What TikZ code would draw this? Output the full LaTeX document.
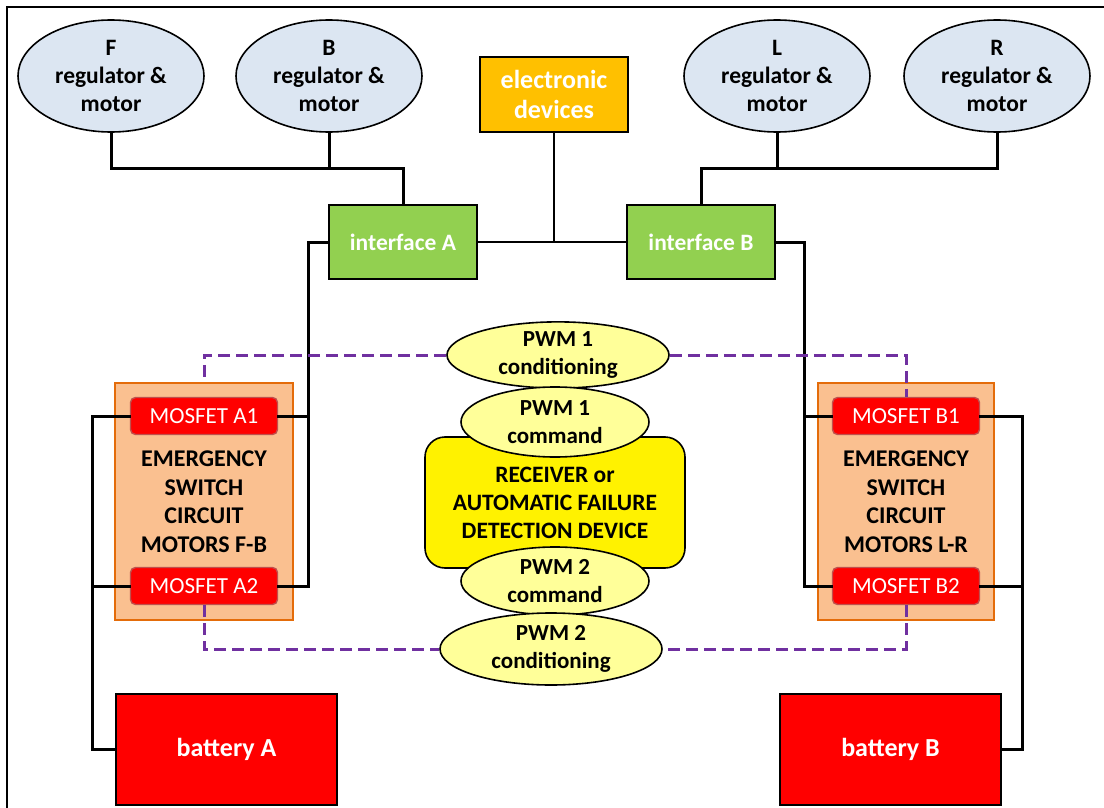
\documentclass[tikz,border=0pt]{standalone}
\usepackage{fontspec}
\setmainfont{Carlito}
\usetikzlibrary{shapes.geometric}
\definecolor{motorfill}{HTML}{DCE6F2}
\definecolor{elecfill}{HTML}{FFC000}
\definecolor{ifacefill}{HTML}{92D050}
\definecolor{escfill}{HTML}{FAC090}
\definecolor{escdraw}{HTML}{E46C0A}
\definecolor{mosdraw}{HTML}{C0504D}
\definecolor{pwmfill}{HTML}{FFFF99}
\definecolor{dashpurple}{HTML}{7030A0}
\tikzset{
  txt/.style={font=\bfseries\fontsize{23.5}{28}\selectfont, align=center, inner sep=0pt},
  motor/.style={txt, ellipse, draw=black, line width=1.6pt, fill=motorfill, minimum width=186pt, minimum height=112pt},
  elecbox/.style={txt, draw=black, line width=1.6pt, fill=elecfill, text=white, minimum width=148pt, minimum height=75pt, font=\bfseries\fontsize{26}{30}\selectfont},
  iface/.style={txt, draw=black, line width=1.6pt, fill=ifacefill, text=white, minimum width=148pt, minimum height=74pt},
  escbox/.style={txt, draw=escdraw, line width=1.6pt, fill=escfill, minimum width=178pt, minimum height=237pt, font=\bfseries\fontsize{24}{28.5}\selectfont},
  mosbox/.style={txt, draw=mosdraw, line width=1.4pt, fill=red, text=white, rounded corners=5pt, minimum width=147pt, minimum height=37pt, font=\fontsize{23}{28}\selectfont},
  batbox/.style={txt, draw=black, line width=1.6pt, fill=red, text=white, minimum width=221pt, minimum height=111pt, font=\bfseries\fontsize{26}{29}\selectfont},
  rxbox/.style={txt, draw=black, line width=1.6pt, fill=yellow, rounded corners=20pt, minimum width=260pt, minimum height=131pt, font=\bfseries\fontsize{23.5}{28}\selectfont},
  pwm/.style={txt, ellipse, draw=black, line width=1.6pt, fill=pwmfill, font=\bfseries\fontsize{23}{28}\selectfont},
  wire/.style={line width=3pt, line cap=rect},
  thinwire/.style={line width=1.4pt},
  ctl/.style={line width=3pt, dashpurple, dash pattern=on 12pt off 6pt}
}
\begin{document}
\begin{tikzpicture}[x=1pt, y=-1pt]
\useasboundingbox (0,0) rectangle (1104,808);
\draw[line width=2pt] (7,808) -- (7,7) -- (1104,7);
% top row
\node[motor] (F) at (111,76) {F\\regulator \&\\motor};
\node[motor] (B) at (329,76) {B\\regulator \&\\motor};
\node[motor] (L) at (777,76) {L\\regulator \&\\motor};
\node[motor] (R) at (997,76) {R\\regulator \&\\motor};
\node[elecbox] (elec) at (554,94.5) {electronic\\devices};
\node[iface] (ifA) at (403,242) {interface A};
\node[iface] (ifB) at (701,242) {interface B};
% emergency boxes
\node[escbox] (escA) at (204,501.5) {EMERGENCY\\SWITCH\\CIRCUIT\\MOTORS F-B};
\node[escbox, minimum width=176pt] (escB) at (906,501.5) {EMERGENCY\\SWITCH\\CIRCUIT\\MOTORS L-R};
\node[mosbox] (mA1) at (204,416) {MOSFET A1};
\node[mosbox] (mA2) at (204,586) {MOSFET A2};
\node[mosbox] (mB1) at (906,416) {MOSFET B1};
\node[mosbox] (mB2) at (906,586) {MOSFET B2};
% batteries
\node[batbox] (batA) at (226.5,749.5) {battery A};
\node[batbox] (batB) at (890.5,749.5) {battery B};
% centre stack
\node[pwm, minimum width=222pt, minimum height=64pt] (c1) at (558,355) {PWM 1\\conditioning};
\node[rxbox] (rx) at (555,502.5) {RECEIVER or\\AUTOMATIC FAILURE\\DETECTION DEVICE};
\node[pwm, minimum width=188pt, minimum height=70pt] (m1) at (555,422) {PWM 1\\command};
\node[pwm, minimum width=188pt, minimum height=68pt] (m2) at (555,581) {PWM 2\\command};
\node[pwm, minimum width=222pt, minimum height=72pt] (c2) at (551,649) {PWM 2\\conditioning};
% junction coordinates
\coordinate (jA) at (403,168);
\coordinate (jB) at (701,168);
\coordinate (vA) at (308,586);
\coordinate (vB) at (804,586);
\coordinate (lA) at (92,416);
\coordinate (lB) at (1022,416);
% motor wiring
\draw[wire] (F.south) |- (jA) -- (ifA.north);
\draw[wire] (B.south) -- (B.south |- jA);
\draw[wire] (R.south) |- (jB) -- (ifB.north);
\draw[wire] (L.south) -- (L.south |- jB);
% electronic devices
\draw[thinwire] (ifA.east) -- (ifB.west);
\draw[thinwire] (elec.south) -- (elec.south |- ifA.east);
% interface to MOSFETs
\draw[wire] (ifA.west) -| (vA) -- (mA2.east);
\draw[wire] (mA1.east) -- (mA1.east -| vA);
\draw[wire] (ifB.east) -| (vB) -- (mB2.west);
\draw[wire] (mB1.west) -- (mB1.west -| vB);
% MOSFETs to batteries
\draw[wire] (mA1.west) -- (lA) |- (batA.west);
\draw[wire] (mA2.west) -- (mA2.west -| lA);
\draw[wire] (mB1.east) -- (lB) |- (batB.east);
\draw[wire] (mB2.east) -- (mB2.east -| lB);
% control lines
\draw[ctl] (c1.west) -| (escA.north);
\draw[ctl] (c1.east) -| (mB1.north);
\draw[ctl] (mA2.south) |- (c2.west);
\draw[ctl] (mB2.south) |- (c2.east);
\end{tikzpicture}
\end{document}
